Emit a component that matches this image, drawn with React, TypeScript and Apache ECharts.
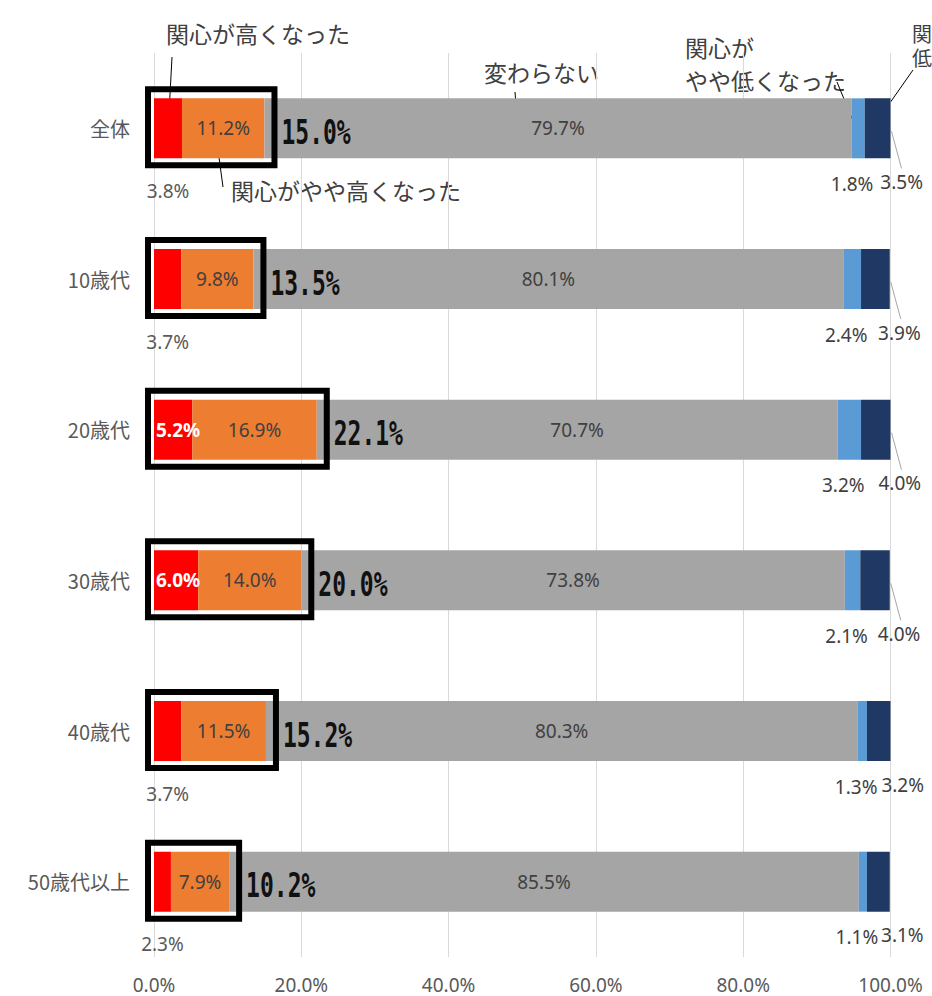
import React, { useEffect, useRef } from 'react';
import * as echarts from 'echarts';

const categories = ['全体', '10歳代', '20歳代', '30歳代', '40歳代', '50歳代以上'];
const seriesNames = ['関心が高くなった', '関心がやや高くなった', '変わらない', '関心がやや低くなった', '関心が低くなった'];
const muchHigher = [3.8, 3.7, 5.2, 6.0, 3.7, 2.3];
const slightlyHigher = [11.2, 9.8, 16.9, 14.0, 11.5, 7.9];
const unchanged = [79.7, 80.1, 70.7, 73.8, 80.3, 85.5];
const slightlyLower = [1.8, 2.4, 3.2, 2.1, 1.3, 1.1];
const muchLower = [3.5, 3.9, 4.0, 4.0, 3.2, 3.1];
const xTicks = [0, 20, 40, 60, 80, 100];

// style-only settings
const leaderLines = [true, true, true, true, false, false];
const colors = ['#FF0000', '#ED7D31', '#A5A5A5', '#5B9BD5', '#1F3864'];
const NUM_FONT = "'Noto Sans', 'Noto Sans CJK JP', sans-serif";
const JP_FONT = "'Noto Sans CJK JP', sans-serif";

const fmt = (p: any) => Number(p.value).toFixed(1) + '%';

export default function App() {
  const ref = useRef<HTMLDivElement>(null);

  useEffect(() => {
    if (!ref.current) return;
    const chart = echarts.init(ref.current, undefined, { renderer: 'svg' });

    const labelBase = { show: true, fontSize: 19, fontFamily: NUM_FONT, formatter: fmt };

    const option: any = {
      animation: false,
      backgroundColor: '#ffffff',
      grid: { left: 154, right: 41.5, top: 53, bottom: 39, containLabel: false },
      xAxis: {
        type: 'value',
        min: xTicks[0],
        max: xTicks[xTicks.length - 1],
        interval: xTicks[1] - xTicks[0],
        axisLine: { show: false },
        axisTick: { show: false },
        splitLine: { show: true, lineStyle: { color: '#D9D9D9', width: 1 } },
        axisLabel: {
          color: '#595959',
          fontSize: 19,
          fontFamily: NUM_FONT,
          margin: 18,
          formatter: (v: number) => v.toFixed(1) + '%',
        },
      },
      yAxis: {
        type: 'category',
        inverse: true,
        data: categories,
        axisLine: { show: false },
        axisTick: { show: false },
        axisLabel: { color: '#595959', fontSize: 20, fontFamily: JP_FONT, margin: 24 },
      },
      series: [
        {
          name: seriesNames[0],
          type: 'bar',
          stack: 'total',
          barWidth: 60,
          itemStyle: { color: colors[0] },
          label: { ...labelBase, position: 'bottom', distance: 23, color: '#595959' },
          data: muchHigher.map((v) =>
            v >= 5
              ? { value: v, label: { position: 'insideLeft', distance: 2, color: '#ffffff', fontWeight: 'bold' } }
              : v
          ),
        },
        {
          name: seriesNames[1],
          type: 'bar',
          stack: 'total',
          barWidth: 60,
          itemStyle: { color: colors[1] },
          label: { ...labelBase, position: 'inside', color: '#404040' },
          data: slightlyHigher,
        },
        {
          name: seriesNames[2],
          type: 'bar',
          stack: 'total',
          barWidth: 60,
          itemStyle: { color: colors[2] },
          label: { ...labelBase, position: 'inside', color: '#404040' },
          data: unchanged,
        },
        {
          name: seriesNames[3],
          type: 'bar',
          stack: 'total',
          barWidth: 60,
          itemStyle: { color: colors[3] },
          label: { ...labelBase, position: 'bottom', distance: 16, offset: [-6, 0], color: '#404040' },
          data: slightlyLower,
        },
        {
          name: seriesNames[4],
          type: 'bar',
          stack: 'total',
          barWidth: 60,
          itemStyle: { color: colors[4] },
          label: { ...labelBase, position: 'bottom', distance: 14, offset: [24, 0], color: '#404040' },
          data: muchLower,
        },
        {
          name: 'highlight',
          type: 'custom',
          z: 10,
          silent: true,
          clip: false,
          encode: { x: 3, y: 0 },
          data: categories.map((_, i) => [
            i,
            muchHigher[i],
            slightlyHigher[i],
            muchHigher[i] + slightlyHigher[i] + unchanged[i] + slightlyLower[i] + muchLower[i],
          ]),
          renderItem: (params: any, api: any) => {
            const i = api.value(0);
            const hi = api.value(1) + api.value(2);
            const end = api.value(3);
            const c = api.coord([0, i]);
            const pHi = api.coord([hi, i]);
            const pEnd = api.coord([end, i]);
            const left = c[0] - 6;
            const right = pHi[0] + 10;
            const children: any[] = [
              {
                type: 'rect',
                shape: { x: left, y: c[1] - 39, width: right - left, height: 76 },
                style: { fill: 'none', stroke: '#000000', lineWidth: 6 },
              },
              {
                type: 'text',
                x: right + 7,
                y: c[1] + 4,
                scaleY: 1.45,
                style: {
                  text: hi.toFixed(1) + '%',
                  fontFamily: "'DejaVu Sans Mono', monospace",
                  fontWeight: 'bold',
                  fontSize: 23,
                  fill: '#111111',
                  align: 'left',
                  verticalAlign: 'middle',
                },
              },
            ];
            if (leaderLines[i]) {
              children.push({
                type: 'line',
                shape: { x1: pEnd[0] + 1, y1: c[1] + 3, x2: pEnd[0] + 11, y2: c[1] + 40 },
                style: { stroke: '#A6A6A6', lineWidth: 1 },
              });
            }
            return { type: 'group', children };
          },
        },
      ],
      graphic: [
        { type: 'text', x: 166, y: 33, style: { text: '関心が高くなった', fontSize: 23, fontFamily: JP_FONT, fill: '#404040', verticalAlign: 'middle' } },
        { type: 'line', shape: { x1: 172, y1: 57, x2: 169, y2: 113 }, style: { stroke: '#000', lineWidth: 1 } },
        { type: 'text', x: 231, y: 190, style: { text: '関心がやや高くなった', fontSize: 23, fontFamily: JP_FONT, fill: '#404040', verticalAlign: 'middle' } },
        { type: 'line', shape: { x1: 218, y1: 150, x2: 223, y2: 187 }, style: { stroke: '#000', lineWidth: 1 } },
        { type: 'text', x: 484, y: 72, style: { text: '変わらない', fontSize: 23, fontFamily: JP_FONT, fill: '#404040', verticalAlign: 'middle' } },
        { type: 'line', shape: { x1: 515, y1: 92, x2: 517, y2: 118 }, style: { stroke: '#000', lineWidth: 1 } },
        { type: 'text', x: 685, y: 63, style: { text: '関心が\nやや低くなった', fontSize: 23, lineHeight: 33, fontFamily: JP_FONT, fill: '#404040', verticalAlign: 'middle' } },
        { type: 'line', shape: { x1: 837, y1: 82, x2: 858, y2: 133 }, style: { stroke: '#000', lineWidth: 1 } },
        { type: 'text', x: 912, y: 45, style: { text: '関心が\n低くなった', fontSize: 20, lineHeight: 24, fontFamily: JP_FONT, fill: '#404040', verticalAlign: 'middle' } },
        { type: 'line', shape: { x1: 913, y1: 70, x2: 873, y2: 127 }, style: { stroke: '#000', lineWidth: 1 } },
      ],
    };

    chart.setOption(option);
    return () => chart.dispose();
  }, []);

  return (
    <div
      ref={ref}
      style={{ position: 'fixed', left: 0, top: 0, width: 932, height: 996, background: '#fff', overflow: 'hidden' }}
    />
  );
}
